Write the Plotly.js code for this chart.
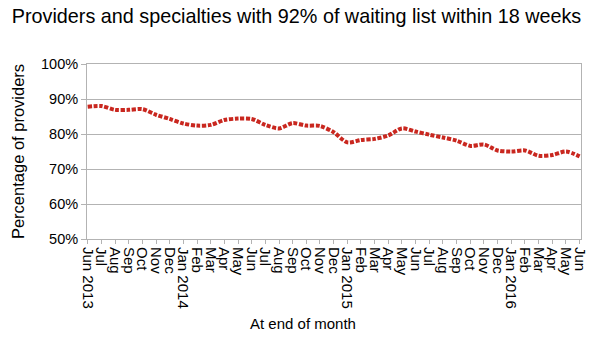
<!DOCTYPE html>
<html>
<head>
<meta charset="utf-8">
<script src="https://cdn.plot.ly/plotly-3.0.1.min.js"></script>
<style>html,body{margin:0;padding:0;background:#fff;}#chart{width:593px;height:348px;}</style>
</head>
<body>
<div id="chart"></div>
<script>
// Month keys (categories)
const months = [
  "2013-06","2013-07","2013-08","2013-09","2013-10","2013-11","2013-12",
  "2014-01","2014-02","2014-03","2014-04","2014-05","2014-06","2014-07","2014-08","2014-09","2014-10","2014-11","2014-12",
  "2015-01","2015-02","2015-03","2015-04","2015-05","2015-06","2015-07","2015-08","2015-09","2015-10","2015-11","2015-12",
  "2016-01","2016-02","2016-03","2016-04","2016-05","2016-06"
];
// Tick labels shown on the x axis
const tickLabels = [
  "Jun 2013","Jul","Aug","Sep","Oct","Nov","Dec",
  "Jan 2014","Feb","Mar","Apr","May","Jun","Jul","Aug","Sep","Oct","Nov","Dec",
  "Jan 2015","Feb","Mar","Apr","May","Jun","Jul","Aug","Sep","Oct","Nov","Dec",
  "Jan 2016","Feb","Mar","Apr","May","Jun"
];
// Percentage of providers
const pctProviders = [
  87.8, 88.0, 86.9, 86.9, 87.1, 85.5, 84.3,
  83.0, 82.4, 82.6, 84.0, 84.4, 84.3, 82.6, 81.6, 83.1, 82.4, 82.3, 80.5,
  77.6, 78.3, 78.6, 79.6, 81.6, 80.7, 79.8, 79.0, 78.1, 76.6, 77.0, 75.3,
  75.0, 75.3, 73.8, 74.0, 75.0, 73.6
];

const FONT = '"Liberation Sans", Arial, Helvetica, sans-serif';
const GRID = '#b3b3b3';

Plotly.newPlot('chart', [{
  x: months,
  y: pctProviders,
  type: 'scatter',
  mode: 'lines',
  line: {color: '#c9271f', width: 4, dash: '4px,1.6px', shape: 'spline', smoothing: 0.8},
  hoverinfo: 'skip'
}], {
  width: 593, height: 348,
  margin: {l: 87, r: 12, t: 64, b: 109},
  paper_bgcolor: '#fff', plot_bgcolor: '#fff',
  font: {family: FONT, color: '#000'},
  showlegend: false,
  title: {
    text: 'Providers and specialties with 92% of waiting list within 18 weeks',
    font: {family: FONT, size: 19.8, color: '#000'},
    x: 0.5, xanchor: 'center', y: 0.953, yanchor: 'middle', yref: 'container'
  },
  annotations: [{
    text: 'At end of month', xref: 'paper', yref: 'paper',
    x: (303 - 87) / 494, y: -(323 - 239) / 175, xanchor: 'center', yanchor: 'middle',
    showarrow: false, font: {family: FONT, size: 15, color: '#000'}
  }],
  xaxis: {
    type: 'category',
    tickmode: 'array', tickvals: months, ticktext: tickLabels,
    tickangle: 90,
    tickfont: {family: FONT, size: 15, color: '#000'},
    ticks: 'outside', ticklen: 4, tickcolor: GRID,
    showgrid: false, zeroline: false,
    showline: true, linecolor: GRID, linewidth: 1, mirror: true,
    range: [-0.05, 36.1]
  },
  yaxis: {
    range: [50, 100],
    tickmode: 'linear', tick0: 50, dtick: 10,
    ticksuffix: '%',
    tickfont: {family: FONT, size: 14.5, color: '#000'},
    ticks: 'outside', ticklen: 5, tickcolor: GRID,
    showgrid: true, gridcolor: GRID, gridwidth: 1,
    zeroline: false,
    showline: true, linecolor: GRID, linewidth: 1, mirror: true,
    title: {text: 'Percentage of providers', font: {family: FONT, size: 16.5, color: '#000'}, standoff: 12}
  }
}, {staticPlot: true, displayModeBar: false});
</script>
</body>
</html>
